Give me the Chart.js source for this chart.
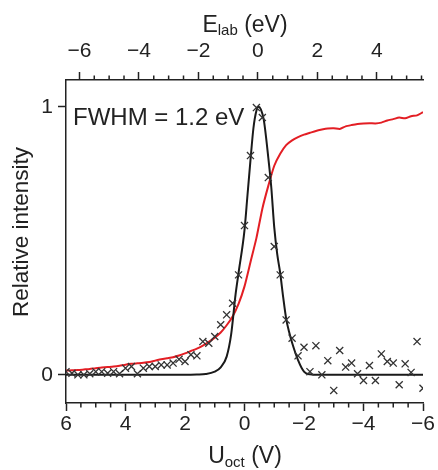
<!DOCTYPE html>
<html>
<head>
<meta charset="utf-8">
<script src="https://cdn.jsdelivr.net/npm/chart.js@4.4.0/dist/chart.umd.min.js"></script>
<style>
  html, body { margin: 0; padding: 0; background: #fff; }
  #wrap { width: 438px; height: 470px; }
</style>
</head>
<body>
<div id="wrap"><canvas id="chart" width="438" height="470"></canvas></div>
<script>
// measured points, U_oct in volts (0.2 V steps)
const uVolts = [6.0, 5.8, 5.6, 5.4, 5.2, 5.0, 4.8, 4.6, 4.4, 4.2, 4.0, 3.8, 3.6, 3.4, 3.2, 3.0,
  2.8, 2.6, 2.4, 2.2, 2.0, 1.8, 1.6, 1.4, 1.2, 1.0, 0.8, 0.6, 0.4, 0.2, 0.0,
  -0.2, -0.4, -0.6, -0.8, -1.0, -1.2, -1.4, -1.6, -1.8, -2.0, -2.2, -2.4, -2.6, -2.8, -3.0,
  -3.2, -3.4, -3.6, -3.8, -4.0, -4.2, -4.4, -4.6, -4.8, -5.0, -5.2, -5.4, -5.6, -5.8, -6.0];

// crosses: differentiated signal
const dataIntensity = [0.012, 0.006, 0.000, 0.000, 0.004, 0.012, 0.012, 0.006, 0.012, 0.004, 0.025, 0.031, 0.004, 0.025, 0.031, 0.031,
  0.037, 0.037, 0.044, 0.058, 0.050, 0.075, 0.071, 0.124, 0.118, 0.143, 0.187, 0.224, 0.267, 0.373, 0.557,
  0.818, 0.997, 0.960, 0.736, 0.479, 0.373, 0.205, 0.137, 0.071, 0.103, 0.012, 0.109, 0.000, 0.053, -0.058,
  0.091, 0.029, 0.044, 0.004, -0.021, 0.035, -0.021, 0.078, 0.050, 0.044, -0.037, 0.041, 0.009, 0.124, -0.050];

// red: transmitted (integral) signal
const redIntensity = [0.016, 0.017, 0.018, 0.020, 0.022, 0.025, 0.027, 0.029, 0.031, 0.034, 0.038, 0.041, 0.043, 0.045, 0.048, 0.053,
  0.058, 0.062, 0.066, 0.072, 0.080, 0.089, 0.098, 0.109, 0.123, 0.139, 0.158, 0.185, 0.218, 0.265, 0.330,
  0.420, 0.510, 0.620, 0.705, 0.780, 0.825, 0.857, 0.875, 0.887, 0.896, 0.903, 0.910, 0.915, 0.919, 0.920,
  0.917, 0.927, 0.932, 0.936, 0.938, 0.939, 0.938, 0.941, 0.949, 0.954, 0.960, 0.957, 0.965, 0.968, 0.980];

// black fit curve
const fitU = [6.0, 2.0, 1.6, 1.3, 1.0, 0.8, 0.6, 0.45, 0.3, 0.2, 0.0, -0.1, -0.2, -0.3, -0.4, -0.47,
  -0.55, -0.65, -0.8, -0.9, -1.0, -1.1, -1.2, -1.3, -1.4, -1.5, -1.6, -1.8, -2.0, -2.2, -2.5, -6.0];
const fitIntensity = [0, 0, 0.001, 0.003, 0.012, 0.028, 0.068, 0.15, 0.30, 0.38, 0.54, 0.67, 0.80, 0.92, 0.985, 1.0,
  0.99, 0.95, 0.81, 0.70, 0.55, 0.45, 0.38, 0.29, 0.21, 0.16, 0.12, 0.055, 0.012, 0.002, 0, 0];

// axis ticks
const uTicks = [6, 4, 2, 0, -2, -4, -6];
const eTicks = [-6, -4, -2, 0, 2, 4];
const yTicks = [0, 1];
const E_OFFSET = -0.45; // E_lab = -U_oct + E_OFFSET

const FONT = "'Liberation Sans', Arial, sans-serif";
const INK = '#222';

const toPts = (xs, ys) => xs.map((x, i) => ({x: x, y: ys[i]}));
const fmt = (v) => v < 0 ? '\u2212' + Math.abs(v) : String(v);

// minor ticks every 0.5 and the axis titles with subscripts
const decorations = {
  id: 'decorations',
  afterDraw(chart) {
    const ctx = chart.ctx;
    const {top, bottom} = chart.chartArea;
    const xb = chart.scales.x, xt = chart.scales.x2;
    ctx.save();
    ctx.strokeStyle = INK;
    ctx.lineWidth = 1.5;
    ctx.beginPath();
    for (let v = -6; v <= 6.001; v += 0.5) {
      if (Math.abs(v % 2) < 0.01) continue;
      const p = xb.getPixelForValue(v);
      ctx.moveTo(p, bottom); ctx.lineTo(p, bottom + 4.5);
    }
    for (let v = -6; v <= 5.55; v += 0.5) {
      if (Math.abs(v % 2) < 0.01) continue;
      const p = xt.getPixelForValue(v);
      ctx.moveTo(p, top); ctx.lineTo(p, top - 4.5);
    }
    ctx.stroke();

    ctx.fillStyle = INK;
    ctx.textBaseline = 'alphabetic';
    const subTitle = (parts, cx, base) => {
      let w = 0;
      parts.forEach(p => { ctx.font = p.size + 'px ' + FONT; w += ctx.measureText(p.t).width; });
      let x = cx - w / 2;
      parts.forEach(p => {
        ctx.font = p.size + 'px ' + FONT;
        ctx.textAlign = 'left';
        ctx.fillText(p.t, x, base + (p.dy || 0));
        x += ctx.measureText(p.t).width;
      });
    };
    subTitle([{t: 'E', size: 23}, {t: 'lab', size: 15, dy: 3}, {t: ' (eV)', size: 23}], 245, 32);
    subTitle([{t: 'U', size: 23}, {t: 'oct', size: 15, dy: 4}, {t: ' (V)', size: 23}], 245, 463);

    ctx.font = '22.5px ' + FONT;
    ctx.save();
    ctx.translate(22, 232);
    ctx.rotate(-Math.PI / 2);
    ctx.textAlign = 'center';
    ctx.textBaseline = 'middle';
    ctx.fillText('Relative intensity', 0, 0);
    ctx.restore();

    ctx.font = '24px ' + FONT;
    ctx.textAlign = 'left';
    ctx.fillText('FWHM = 1.2 eV', 73, 125);
    ctx.restore();
  }
};

const tickFont = {family: FONT, size: 21, lineHeight: 1};
const axisGrid = {drawOnChartArea: false, tickLength: 8, tickWidth: 1.5, tickColor: INK};
const axisBorder = {display: true, color: INK, width: 1.5};

new Chart(document.getElementById('chart'), {
  type: 'scatter',
  data: {
    datasets: [
      {
        label: 'data',
        data: toPts(uVolts, dataIntensity),
        pointStyle: 'crossRot',
        pointRadius: 5,
        pointBorderWidth: 1.3,
        borderColor: '#333',
        backgroundColor: '#333',
        showLine: false
      },
      {
        label: 'fit',
        data: toPts(fitU, fitIntensity),
        showLine: true,
        pointRadius: 0,
        borderColor: '#1a1a1a',
        borderWidth: 2,
        cubicInterpolationMode: 'monotone'
      },
      {
        label: 'transmission',
        data: toPts(uVolts, redIntensity),
        showLine: true,
        pointRadius: 0,
        borderColor: '#e31e24',
        borderWidth: 2,
        tension: 0.2
      }
    ]
  },
  options: {
    responsive: false,
    animation: false,
    layout: {padding: {left: 0, right: 15, top: 0, bottom: 0}},
    plugins: {legend: {display: false}, tooltip: {enabled: false}},
    scales: {
      x: {
        type: 'linear', position: 'bottom', min: -6, max: 6, reverse: true,
        afterBuildTicks: (s) => { s.ticks = uTicks.map(v => ({value: v})); },
        afterFit: (s) => { s.height = 67; },
        ticks: {callback: fmt, font: tickFont, color: INK, padding: 3, maxRotation: 0, autoSkip: false},
        grid: axisGrid,
        border: axisBorder
      },
      x2: {
        type: 'linear', position: 'top', axis: 'x', min: -6 + E_OFFSET, max: 6 + E_OFFSET,
        afterBuildTicks: (s) => { s.ticks = eTicks.map(v => ({value: v})); },
        afterFit: (s) => { s.height = 80; },
        ticks: {callback: fmt, font: tickFont, color: INK, padding: 10, maxRotation: 0, autoSkip: false},
        grid: axisGrid,
        border: axisBorder
      },
      y: {
        type: 'linear', min: -0.105, max: 1.10,
        afterBuildTicks: (s) => { s.ticks = yTicks.map(v => ({value: v})); },
        afterFit: (s) => { s.width = 66; },
        ticks: {callback: fmt, font: tickFont, color: INK, padding: 5},
        grid: axisGrid,
        border: axisBorder
      }
    }
  },
  plugins: [decorations]
});
</script>
</body>
</html>
